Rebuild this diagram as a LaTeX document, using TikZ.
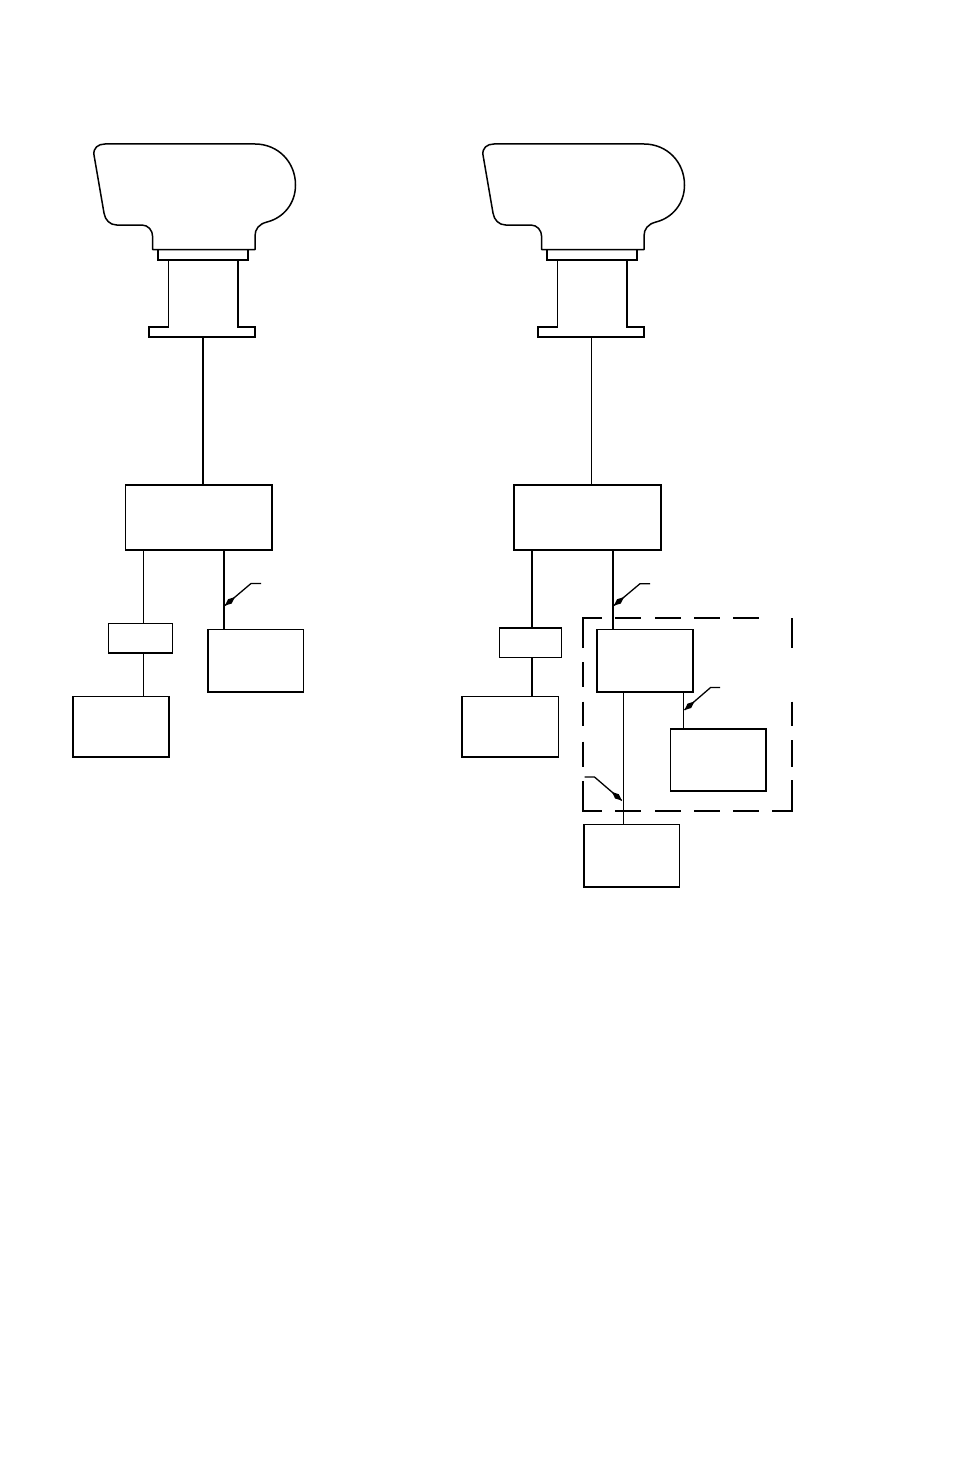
\documentclass[tikz,border=0pt]{standalone}
\usetikzlibrary{calc}
\newcommand{\leadtip}[2]{%
  \fill[black] (#1) -- ($(#1)!7pt!24:(#2)$) -- ($(#1)!13pt!0:(#2)$) -- ($(#1)!7pt!-24:(#2)$) -- cycle;}
\tikzset{
  blk/.style={draw=black,line width=1.4pt,inner sep=0pt,outer sep=0pt,anchor=north west},
  thickw/.style={line width=1.8pt,draw=black},
  thinw/.style={line width=0.95pt,draw=black},
  leader/.style={line width=1.3pt,draw=black},
  frame/.style={line width=1.7pt,draw=black},
  eye/.pic={
    \draw[line width=1.5pt,line join=round]
      (105,144) -- (255,144)
      .. controls (278,144) and (295.5,162) .. (295.5,185)
      .. controls (295.5,204) and (283,218) .. (267,222)
      .. controls (259,224) and (255,229) .. (255,236)
      -- (255,249.5) -- (152.7,249.5) -- (152.7,237)
      .. controls (152.7,230) and (148,225) .. (141.7,225)
      -- (116.7,225)
      .. controls (110,225) and (105,220) .. (104,213)
      -- (94,155)
      .. controls (93,148) and (98,144) .. (105,144) -- cycle;
    \draw[line width=1.5pt] (158,249.5) rectangle (248,260);
    \draw[line width=1.5pt,line join=miter] (237.7,327) -- (255,327) -- (255,337) -- (149,337) -- (149,327) -- (168.7,327);
    \draw[thinw] (168.7,260) -- (168.7,327);
    \draw[thickw] (237.7,260) -- (237.7,327.7);
    \coordinate (-base) at (203,337);
  }
}
\begin{document}
\begin{tikzpicture}[x=1pt,y=-1pt]
\useasboundingbox (0,0) rectangle (954,1474);
\fill[white] (0,0) rectangle (954,1474);

\pic (L) at (0,0) {eye};
\pic (R) at (389,0) {eye};

% left column boxes
\node[blk,minimum width=146.5pt,minimum height=65pt] (lmain) at (125.5,485) {};
\node[blk,line width=1.1pt,minimum width=64pt,minimum height=29.5pt] (lsmall) at (108.5,623.5) {};
\node[blk,minimum width=96pt,minimum height=60.5pt] (lbot) at (73,696.5) {};
\node[blk,minimum width=95.5pt,minimum height=62.5pt] (lside) at (208,629.5) {};

% right column boxes
\node[blk,minimum width=147pt,minimum height=65pt] (rmain) at (514,485) {};
\node[blk,line width=1.1pt,minimum width=62pt,minimum height=29.5pt] (rsmall) at (499.5,628) {};
\node[blk,minimum width=96.3pt,minimum height=60.5pt] (rbot) at (462,696.5) {};
\node[blk,minimum width=96pt,minimum height=62.5pt] (rside) at (597,629.5) {};
\node[blk,minimum width=95.5pt,minimum height=62pt] (rin) at (670.5,729) {};
\node[blk,minimum width=95.5pt,minimum height=62.5pt] (rlow) at (584,824.5) {};

% x positions of the connectors
\coordinate (xa) at (143.5,0);
\coordinate (xb) at (224,0);
\coordinate (xc) at (532,0);
\coordinate (xd) at (613,0);
\coordinate (xe) at (623.3,0);
\coordinate (xf) at (683.5,0);
\coordinate (xg) at (591.3,0);

% connectors
\draw[thickw] (L-base) -- (L-base |- lmain.north);
\draw[thinw] (xg |- R-base) -- (xg |- rmain.north);
\draw[thinw] (xa |- lmain.south) -- (xa |- lsmall.north);
\draw[thinw] (xa |- lsmall.south) -- (xa |- lbot.north);
\draw[thickw] (xb |- lmain.south) -- (xb |- lside.north);
\draw[thickw] (xc |- rmain.south) -- (xc |- rsmall.north);
\draw[thickw] (xc |- rsmall.south) -- (xc |- rbot.north);
\draw[thickw] (xd |- rmain.south) -- (xd |- rside.north);
\draw[thinw] (xe |- rside.south) -- (xe |- rlow.north);
\draw[thinw] (xf |- rside.south) -- (xf |- rin.north);

% leaders
\coordinate (a1) at (261,583.5);
\coordinate (a2) at (251,583.5);
\coordinate (a3) at (225,605.5);
\draw[leader] (a1) -- (a2) -- (a3);
\leadtip{a3}{a2}
\coordinate (b1) at (650,583.7);
\coordinate (b2) at (640,583.7);
\coordinate (b3) at (614,605.5);
\draw[leader] (b1) -- (b2) -- (b3);
\leadtip{b3}{b2}
\coordinate (c1) at (720,687.5);
\coordinate (c2) at (710.6,687.5);
\coordinate (c3) at (684.5,710);
\draw[leader] (c1) -- (c2) -- (c3);
\leadtip{c3}{c2}
\coordinate (d1) at (584.5,777);
\coordinate (d2) at (594.5,777);
\coordinate (d3) at (621.8,800.5);
\draw[leader] (d1) -- (d2) -- (d3);
\leadtip{d3}{d2}

% dashed enclosure
\draw[frame] (583,648) -- (583,618) -- (601.7,618);
\foreach \xa/\xb in {615/641,655/681,694/720,733/759}{
  \draw[frame] (\xa,618) -- (\xb,618);
  \draw[frame] (\xa,811) -- (\xb,811);
}
\draw[frame] (583,781) -- (583,811) -- (601.7,811);
\draw[frame] (772,811) -- (792,811) -- (792,780);
\draw[frame] (792,618) -- (792,648);
\foreach \ya/\yb in {662/687,701.5/726,741.5/767}{
  \draw[frame] (583,\ya) -- (583,\yb);
}
\foreach \ya/\yb in {701.5/726,740/767}{
  \draw[frame] (792,\ya) -- (792,\yb);
}
\end{tikzpicture}
\end{document}
